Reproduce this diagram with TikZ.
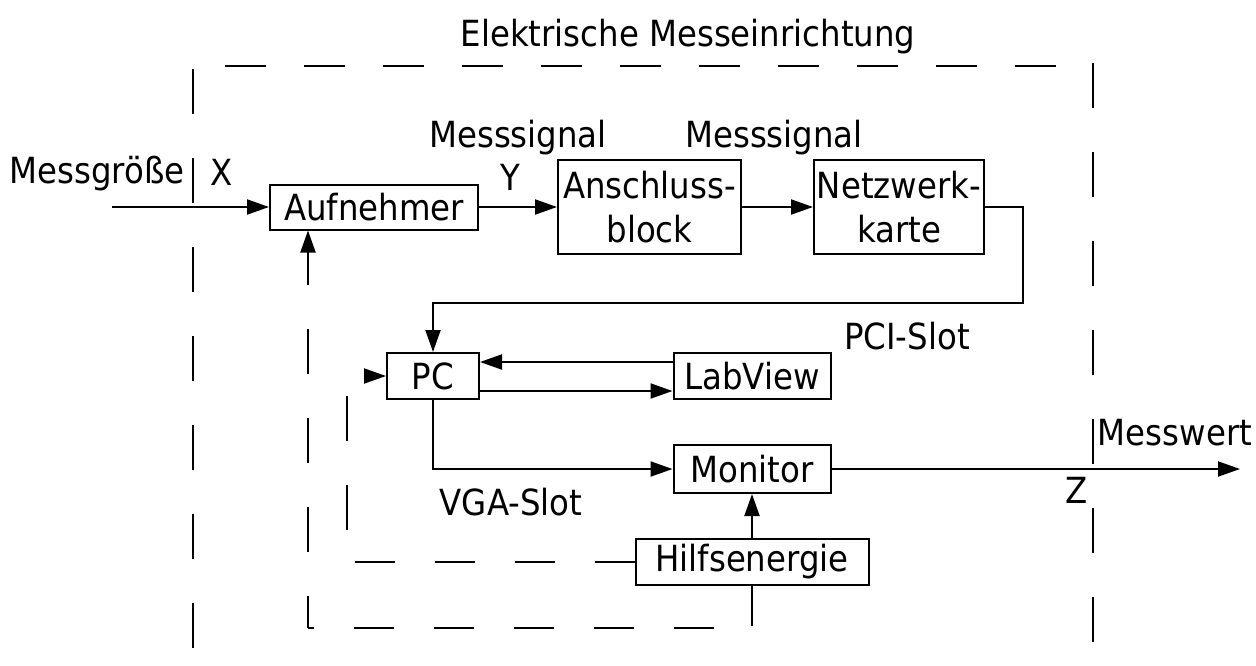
\documentclass[tikz,border=0pt]{standalone}
\usepackage{fontspec}
\setmainfont{DejaVu Sans}[FakeStretch=0.9]
\usetikzlibrary{arrows.meta}
\begin{document}
\begin{tikzpicture}[x=1pt,y=-1pt,
  line width=2pt,
  every node/.style={font=\fontsize{36}{44}\selectfont, inner sep=0pt},
  block/.style={draw, rectangle, align=center, line width=2pt},
  sig/.style={-{Triangle[length=22pt,width=15pt]}},
  dashH/.style={dash pattern=on 40pt off 40pt},
  dashV/.style={dash pattern=on 45pt off 44pt},
  lbl/.style={anchor=base}
]
\useasboundingbox (0,0) rectangle (1256,665);

% frame of the measuring device
\draw[dashV] (193,69) -- (193,720);
\draw[dashV] (1093,63) -- (1093,720);
\draw[dash pattern=on 41pt off 38pt] (225,66) -- (1057,66);

% blocks
\node[block, minimum width=208pt, minimum height=45pt] (auf) at (374,207) {Aufnehmer};
\node[block, minimum width=183pt, minimum height=94pt] (ans) at (649.5,207) {Anschluss-\\block};
\node[block, minimum width=170pt, minimum height=94pt] (net) at (899,207) {Netzwerk-\\karte};
\node[block, minimum width=92pt, minimum height=46pt] (pc) at (433,376) {PC};
\node[block, minimum width=157pt, minimum height=46pt] (lab) at (752,376) {LabView};
\node[block, minimum width=157pt, minimum height=48pt] (mon) at (752,469) {Monitor};
\node[block, minimum width=233pt, minimum height=46pt] (hil) at (752,562) {Hilfsenergie};

% labels
\node[lbl] (title) at (688,46) {Elektrische Messeinrichtung};
\node[lbl] (mg) at (97,183) {Messgröße};
\node[lbl] (lx) at (222,185) {X};
\node[lbl] (ms1) at (518,147) {Messsignal};
\node[lbl] (ly) at (510,190) {Y};
\node[lbl] (ms2) at (774,147) {Messsignal};
\node[lbl] (pci) at (907,349) {PCI-Slot};
\node[lbl] (vga) at (511,515) {VGA-Slot};
\node[lbl] (mw) at (1175,445) {Messwert};
\node[lbl] (lz) at (1077,503) {Z};

% free ends and bends
\coordinate (in) at (112,207);
\coordinate (out) at (1240,469);
\coordinate (bend) at (1023,303);
\coordinate (c1) at (752,628);
\coordinate (c2) at (308,628);
\coordinate (c3) at (347,562);

% signal path
\draw[sig] (in) -- (auf.west);
\draw[sig] (auf.east) -- (ans.west);
\draw[sig] (ans.east) -- (net.west);
\draw[sig] (net.east) -| (bend) -| (pc.north);
\draw[sig] ([yshift=14pt]lab.west) -- ([yshift=14pt]pc.east);
\draw[sig] ([yshift=-15pt]pc.east) -- ([yshift=-15pt]lab.west);
\draw[sig] (pc.south) |- (mon.west);
\draw[sig] (mon.east) -- (out);
\draw[sig] (hil.north) -- (mon.south);

% auxiliary energy supply
\draw[dashH] (hil.south) -- (c1) -- (c2);
\draw[dashV, dash phase=13pt, sig] (c2) -- (c2 |- auf.south);
\draw[dashH] (hil.west) -- (c3);
\draw[dashV, dash phase=57pt, sig] (c3) |- (pc.west);
\end{tikzpicture}
\end{document}
